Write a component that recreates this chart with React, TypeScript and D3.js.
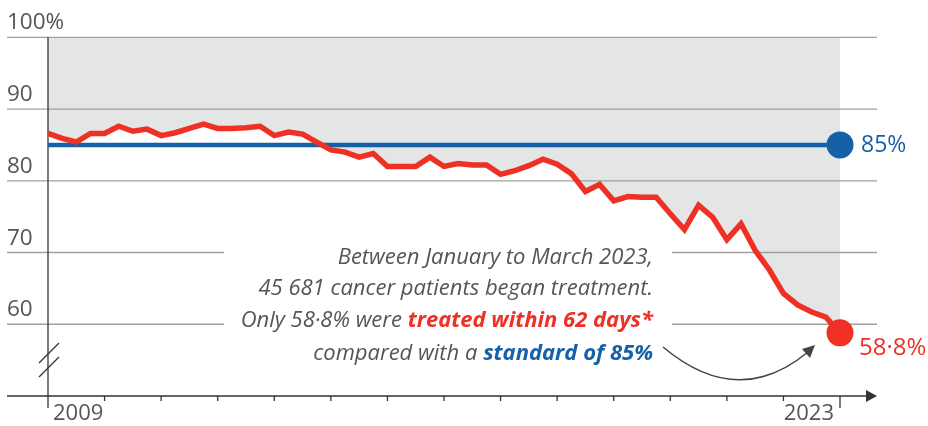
import { useEffect, useRef } from 'react';
import * as d3 from 'd3';

// Share of patients treated within 62 days, quarterly, 2009 Q1 – 2023 Q1
const firstYear = 2009;
const lastYear = 2023;
const treatedWithin62Days = [
  86.6, 85.9, 85.4, 86.6, 86.6, 87.6, 86.9, 87.2, 86.3, 86.7,
  87.3, 87.9, 87.3, 87.3, 87.4, 87.6, 86.3, 86.8, 86.5, 85.4,
  84.3, 84.0, 83.3, 83.8, 82.0, 82.0, 82.0, 83.3, 82.0, 82.4,
  82.2, 82.2, 80.9, 81.4, 82.1, 83.0, 82.3, 81.0, 78.5, 79.5,
  77.2, 77.8, 77.7, 77.7, 75.4, 73.2, 76.6, 74.9, 71.8, 74.0,
  70.3, 67.6, 64.3, 62.7, 61.7, 61.0, 58.8,
];
const standard = 85;
const yTicks = [60, 70, 80, 90, 100];
const tickYears = d3.range(firstYear, lastYear + 1);

const RED = '#ee3124';
const BLUE = '#1660a8';
const TEXT = '#555555';
const FONT = '"Open Sans", "Noto Sans", sans-serif';

export default function App() {
  const svgRef = useRef<SVGSVGElement>(null);
  const width = 928;
  const height = 426;

  useEffect(() => {
    const svg = d3.select(svgRef.current);
    svg.selectAll('*').remove();

    const x = d3.scaleLinear().domain([firstYear, lastYear]).range([48, 840]);
    const y = d3.scaleLinear().domain([50, 100]).range([396, 37.3]);
    const xq = (i: number) => x(firstYear + i / 4);
    const gridLeft = 7;
    const gridRight = 877;

    // grey area above the line
    const area = d3.area<number>()
      .x((d, i) => xq(i))
      .y0(y(100))
      .y1(d => y(d));
    svg.append('path')
      .attr('d', area(treatedWithin62Days) || '')
      .attr('fill', '#e4e5e5');

    // gridlines (lower ones are broken for the annotation)
    yTicks.forEach(t => {
      const segs = t <= 70 ? [[gridLeft, 224], [672, gridRight]] : [[gridLeft, gridRight]];
      segs.forEach(([a, b]) => {
        svg.append('line')
          .attr('x1', a).attr('x2', b)
          .attr('y1', y(t)).attr('y2', y(t))
          .attr('stroke', '#a0a0a0')
          .attr('stroke-width', 1.3);
      });
      svg.append('text')
        .attr('x', 7)
        .attr('y', y(t) - 8)
        .style('font-family', FONT)
        .style('font-size', '22.5px')
        .style('fill', TEXT)
        .text(t === 100 ? '100%' : String(t));
    });

    // y axis with break marks
    svg.append('line')
      .attr('x1', x(firstYear)).attr('x2', x(firstYear))
      .attr('y1', y(100)).attr('y2', 408)
      .attr('stroke', '#333').attr('stroke-width', 1.3);
    [0, 14].forEach(off => {
      svg.append('line')
        .attr('x1', 39).attr('y1', 363 + off)
        .attr('x2', 59).attr('y2', 343 + off)
        .attr('stroke', '#333').attr('stroke-width', 1.2);
    });

    // x axis
    svg.append('line')
      .attr('x1', gridLeft).attr('x2', 868)
      .attr('y1', y(50)).attr('y2', y(50))
      .attr('stroke', '#333').attr('stroke-width', 1.3);
    svg.append('path')
      .attr('d', `M866,${y(50) - 6}L877,${y(50)}L866,${y(50) + 6}Z`)
      .attr('fill', '#333');
    tickYears.forEach(yr => {
      if (yr === firstYear) return;
      svg.append('line')
        .attr('x1', x(yr)).attr('x2', x(yr))
        .attr('y1', y(50)).attr('y2', y(50) + (yr === lastYear ? 12 : 5))
        .attr('stroke', '#333').attr('stroke-width', 1.3);
    });
    svg.append('text')
      .attr('x', x(firstYear) + 5).attr('y', 420)
      .style('font-family', FONT).style('font-size', '22px').style('fill', TEXT)
      .text(String(firstYear));
    svg.append('text')
      .attr('x', x(lastYear) - 6).attr('y', 420)
      .attr('text-anchor', 'end')
      .style('font-family', FONT).style('font-size', '22px').style('fill', TEXT)
      .text(String(lastYear));

    // standard line
    svg.append('line')
      .attr('x1', x(firstYear)).attr('x2', x(lastYear))
      .attr('y1', y(standard)).attr('y2', y(standard))
      .attr('stroke', BLUE).attr('stroke-width', 4.5);
    svg.append('circle')
      .attr('cx', x(lastYear)).attr('cy', y(standard)).attr('r', 13.5)
      .attr('fill', BLUE);
    svg.append('text')
      .attr('x', 861).attr('y', y(standard) + 7)
      .style('font-family', FONT).style('font-size', '23px').style('font-weight', 500)
      .style('fill', BLUE)
      .text('85%');

    // treated within 62 days
    const line = d3.line<number>()
      .x((d, i) => xq(i))
      .y(d => y(d));
    svg.append('path')
      .attr('d', line(treatedWithin62Days) || '')
      .attr('fill', 'none')
      .attr('stroke', RED)
      .attr('stroke-width', 5.5)
      .attr('stroke-linejoin', 'miter');
    const last = treatedWithin62Days[treatedWithin62Days.length - 1];
    svg.append('circle')
      .attr('cx', x(lastYear)).attr('cy', y(last)).attr('r', 13.5)
      .attr('fill', RED);
    svg.append('text')
      .attr('x', 859).attr('y', y(last) + 22)
      .style('font-family', FONT).style('font-size', '24px').style('font-weight', 500)
      .style('fill', RED)
      .text('58·8%');

    // annotation
    const note = svg.append('g')
      .style('font-family', FONT)
      .style('font-size', '22px')
      .style('font-style', 'italic')
      .style('fill', TEXT)
      .attr('text-anchor', 'end');
    note.append('text').attr('x', 653).attr('y', 264).text('Between January to March 2023,');
    note.append('text').attr('x', 653).attr('y', 295).text('45 681 cancer patients began treatment.');
    const l3 = note.append('text').attr('x', 653).attr('y', 327);
    l3.append('tspan').text('Only 58·8% were ');
    l3.append('tspan').style('fill', RED).style('font-weight', 700).text('treated within 62 days*');
    const l4 = note.append('text').attr('x', 653).attr('y', 360);
    l4.append('tspan').text('compared with a ');
    l4.append('tspan').style('fill', BLUE).style('font-weight', 700).text('standard of 85%');

    // curved arrow to the last point
    svg.append('path')
      .attr('d', 'M663,347 Q738,410 808,352')
      .attr('fill', 'none')
      .attr('stroke', '#444')
      .attr('stroke-width', 1.5);
    svg.append('path')
      .attr('d', 'M815,345 L802,349 L810,358 Z')
      .attr('fill', '#444');
  }, []);

  return (
    <div style={{ position: 'fixed', top: 0, left: 0 }}>
      <svg ref={svgRef} width={width} height={height} />
    </div>
  );
}
